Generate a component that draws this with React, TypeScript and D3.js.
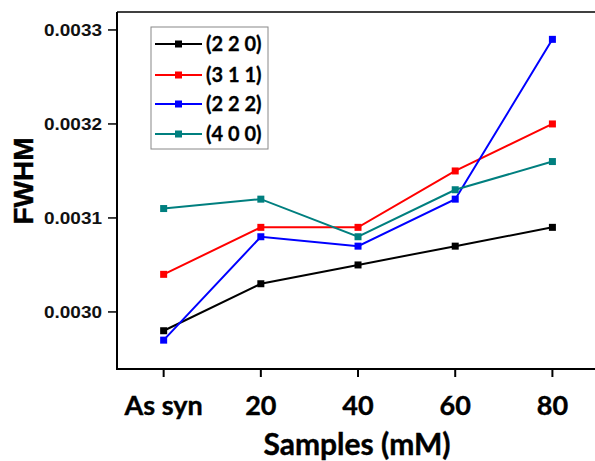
import React from "react";
import * as d3 from "d3";

const categories = ["As syn", "20", "40", "60", "80"];
const seriesNames = ["(2 2 0)", "(3 1 1)", "(2 2 2)", "(4 0 0)"];
const seriesColors = ["#000000", "#ff0000", "#0000ff", "#007f7f"];
const s220 = [0.00298, 0.00303, 0.00305, 0.00307, 0.00309];
const s311 = [0.00304, 0.00309, 0.00309, 0.00315, 0.0032];
const s222 = [0.00297, 0.00308, 0.00307, 0.00312, 0.00329];
const s400 = [0.00311, 0.00312, 0.00308, 0.00313, 0.00316];
const yTicks = [0.003, 0.0031, 0.0032, 0.0033];

const W = 595;
const H = 461;
const left = 117;
const right = 601;
const top = 12;
const bottom = 369;

export default function App() {
  const series = [s220, s311, s222, s400];
  const x = d3.scaleLinear().domain([-0.48, 4.5]).range([left, right]);
  const y = d3.scaleLinear().domain([0.0029393, 0.0033191]).range([bottom, top]);
  const line = d3
    .line<number>()
    .x((_, i) => x(i))
    .y((d) => y(d));
  const legX = 151;
  const legY = 27;
  const rowY = [44, 75, 104, 134];
  const heavy = { stroke: "#000", strokeWidth: 0.4 };
  return (
    <svg
      width={W}
      height={H}
      style={{ position: "absolute", left: 0, top: 0, background: "#fff" }}
    >
      {/* frame */}
      <line x1={left} x2={W} y1={top} y2={top} stroke="#000" strokeWidth={1.5} />
      <line x1={left} x2={W} y1={bottom} y2={bottom} stroke="#000" strokeWidth={2} />
      <line x1={left} x2={left} y1={top} y2={bottom + 1} stroke="#000" strokeWidth={2} />
      {/* y ticks */}
      {yTicks.map((t) => (
        <g key={t}>
          <line x1={left - 9} x2={left} y1={y(t)} y2={y(t)} stroke="#000" strokeWidth={1.5} />
          <text
            x={102}
            y={y(t) + 6}
            textAnchor="end"
            textLength={58}
            lengthAdjust="spacingAndGlyphs"
            fontFamily="Liberation Sans, Arial, sans-serif"
            fontWeight="bold"
            fontSize={17}
            fill="#111"
          >
            {d3.format(".4f")(t)}
          </text>
        </g>
      ))}
      {/* x ticks */}
      {categories.map((c, i) => (
        <g key={c}>
          <line x1={x(i)} x2={x(i)} y1={bottom} y2={bottom + 8} stroke="#000" strokeWidth={2} />
          <text
            x={x(i)}
            y={415}
            textAnchor="middle"
            fontFamily="Lato, sans-serif"
            fontWeight="bold"
            fontSize={27}
            fill="#000"
            {...heavy}
          >
            {c}
          </text>
        </g>
      ))}
      {/* axis titles */}
      <text
        x={357}
        y={455}
        textAnchor="middle"
        fontFamily="Lato, sans-serif"
        fontWeight="bold"
        fontSize={30}
        fill="#000"
        {...heavy}
      >
        Samples (mM)
      </text>
      <text
        transform="translate(33,181) rotate(-90)"
        textAnchor="middle"
        fontFamily="Liberation Sans, Arial, sans-serif"
        fontWeight="bold"
        fontSize={28}
        fill="#000"
        {...heavy}
      >
        FWHM
      </text>
      {/* series */}
      {series.map((s, k) => (
        <g key={k}>
          <path d={line(s) || ""} fill="none" stroke={seriesColors[k]} strokeWidth={2} />
          {s.map((v, i) => (
            <rect
              key={i}
              x={x(i) - 3.5}
              y={y(v) - 3.5}
              width={7}
              height={7}
              fill={seriesColors[k]}
            />
          ))}
        </g>
      ))}
      {/* legend */}
      <rect x={legX} y={legY} width={117} height={122} fill="#fff" stroke="#888" strokeWidth={1} />
      {seriesNames.map((n, k) => (
        <g key={n}>
          <line x1={155} x2={202} y1={rowY[k]} y2={rowY[k]} stroke={seriesColors[k]} strokeWidth={2} />
          <rect x={175} y={rowY[k] - 3.5} width={7} height={7} fill={seriesColors[k]} />
          <text
            x={206}
            y={rowY[k] + 7}
            fontFamily="Lato, sans-serif"
            fontWeight="bold"
            fontSize={20}
            fill="#000"
            stroke="#000"
            strokeWidth={0.3}
          >
            {n}
          </text>
        </g>
      ))}
    </svg>
  );
}
